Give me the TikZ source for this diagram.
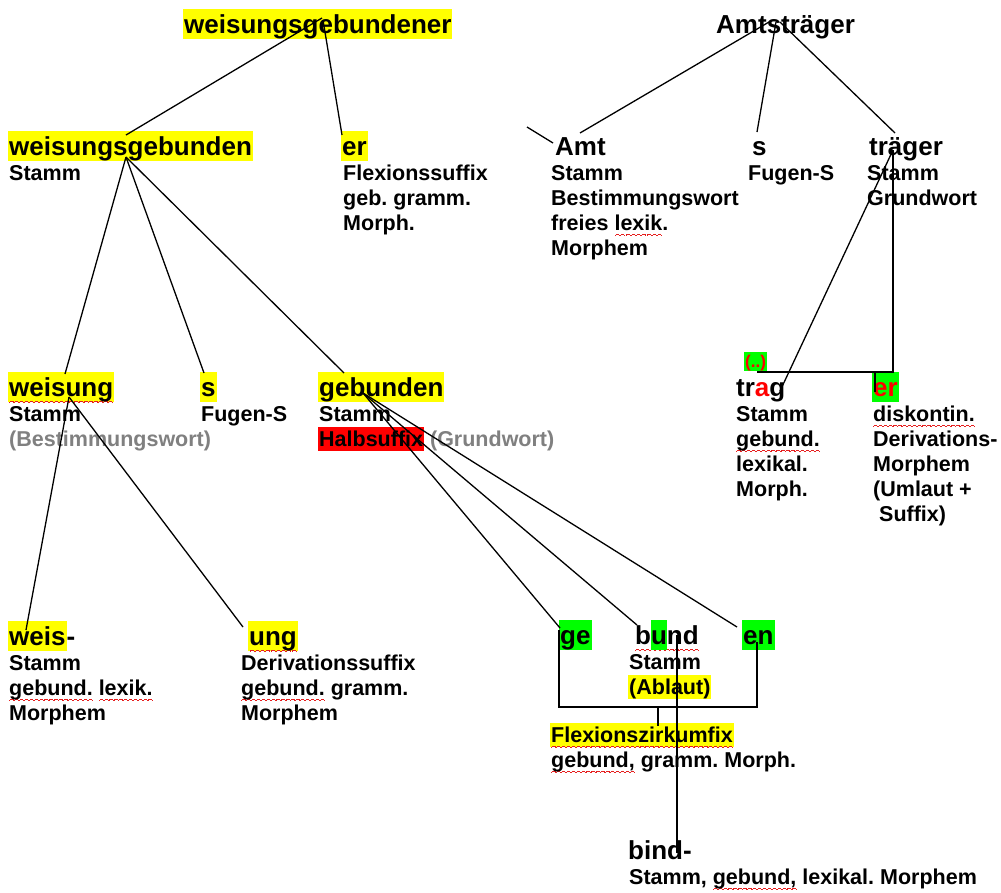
\documentclass[tikz,border=0pt]{standalone}
\usepackage{fontspec}
\setmainfont{Liberation Sans}
\frenchspacing

\definecolor{hlyellow}{RGB}{255,255,0}
\definecolor{hlgreen}{RGB}{0,255,0}
\definecolor{hlred}{RGB}{255,0,0}
\definecolor{muted}{RGB}{128,128,128}
\definecolor{spellred}{RGB}{230,30,30}

% highlighter boxes (with and without side padding)
\newcommand\hl[2]{{\setlength\fboxsep{0pt}\colorbox{#1}{\rule[-0.212em]{0pt}{1.117em}\kern1pt#2\kern1pt}}}
\newcommand\hlz[2]{{\setlength\fboxsep{0pt}\colorbox{#1}{\rule[-0.212em]{0pt}{1.117em}#2}}}
% red wavy underline, built from small stepped rules
\newcommand\wavecell{\hbox{\rule[0pt]{0.8pt}{0.9pt}\rule[0.7pt]{0.8pt}{0.9pt}\rule[1.4pt]{0.8pt}{0.9pt}\rule[1.4pt]{0.8pt}{0.9pt}\rule[0.7pt]{0.8pt}{0.9pt}\rule[0pt]{0.8pt}{0.9pt}}}
\newcommand\spell[1]{\setbox0=\hbox{#1}\rlap{\smash{\color{spellred}\lower0.27em\hbox to\wd0{\xleaders\wavecell\hfil}}}\box0\relax}
% left-aligned stack of lines, baseline = first line
\newcommand\lines[1]{\vtop{\baselineskip=25pt\lineskiplimit=-50pt\lineskip=0pt\halign{##\hfil\cr#1\crcr}}}

\tikzset{
  word/.style={anchor=base west, inner sep=0pt, font=\bfseries\fontsize{26}{30}\selectfont},
  info/.style={anchor=base west, inner sep=0pt, font=\bfseries\fontsize{21.5}{25}\selectfont},
  mini/.style={anchor=base west, inner sep=0pt, font=\bfseries\fontsize{17}{20}\selectfont},
  link/.style={line width=1.3pt, black},
}

\begin{document}
\begin{tikzpicture}[x=1pt, y=-1pt]
\path[fill=white] (0,0) rectangle (1001,892);
\useasboundingbox (0,0) rectangle (1001,892);

% ---------- weisungsgebundener ----------
\node[word] (wg) at (183,33) {\hl{hlyellow}{weisungsgebundener}};
\node[word] (wgb) at (8,155) {\hl{hlyellow}{weisungsgebunden}};
\node[info] (wgb-i) at (9,180) {\lines{Stamm}};
\node[word] (er1) at (341,155) {\hl{hlyellow}{er}};
\node[info] (er1-i) at (343,180) {\lines{Flexionssuffix\cr geb. gramm.\cr Morph.}};

\node[word] (weisung) at (8,396) {\hl{hlyellow}{\spell{weisung}}};
\node[info] (weisung-i) at (9,421) {\lines{Stamm\cr \textcolor{muted}{(Bestimmungswort)}}};
\node[word] (s1) at (200,396) {\hl{hlyellow}{s}};
\node[info] (s1-i) at (201,421) {\lines{Fugen-S}};
\node[word] (gebunden) at (318,396) {\hl{hlyellow}{gebunden}};
\node[info] (gebunden-i) at (318,421) {\lines{\kern1pt Stamm\cr \hl{hlred}{Halbsuffix} \textcolor{muted}{(Grundwort)}}};

\node[word] (weis) at (8,645) {\hl{hlyellow}{weis}-};
\node[info] (weis-i) at (9,670) {\lines{Stamm\cr \spell{gebund.} \spell{lexik.}\cr Morphem}};
\node[word] (ung) at (248,645) {\hl{hlyellow}{\spell{ung}}};
\node[info] (ung-i) at (241,670) {\lines{Derivationssuffix\cr \spell{gebund.} gramm.\cr Morphem}};

\node[word] (ge) at (559,644) {\hl{hlgreen}{ge}};
\node[word] (bund) at (635,644) {\spell{b\hlz{hlgreen}{u}nd}};
\node[word] (en) at (742,644) {\hl{hlgreen}{en}};
\node[info] (bund-i) at (628,669) {\lines{\kern1pt Stamm\cr \hl{hlyellow}{(Ablaut)}}};
\node[info] (fz) at (550,742) {\lines{\hl{hlyellow}{\spell{Flexionszirkumfix}}\cr \kern1pt\spell{gebund,} gramm. Morph.}};

\node[word] (bind) at (628,859) {bind-};
\node[info] (bind-i) at (629,884) {\lines{Stamm, \spell{gebund,} lexikal. Morphem}};

% ---------- Amtsträger ----------
\node[word] (amtstr) at (716,33) {Amtsträger};
\node[word] (amt) at (555,155) {Amt};
\node[info] (amt-i) at (551,180) {\lines{Stamm\cr Bestimmungswort\cr freies \spell{lexik}.\cr Morphem}};
\node[word] (s2) at (752,155) {s};
\node[info] (s2-i) at (748,180) {\lines{Fugen-S}};
\node[word] (traeger) at (869,155) {träger};
\node[info] (traeger-i) at (867,180) {\lines{Stamm\cr Grundwort}};

\node[mini] (dots) at (744,367) {\hl{hlgreen}{\textcolor{hlred}{(..)}}};
\node[word] (trag) at (736,396) {tr\textcolor{hlred}{a}g};
\node[info] (trag-i) at (736,421) {\lines{Stamm\cr \spell{gebund.}\cr lexikal.\cr Morph.}};
\node[word] (er2) at (872,396) {\hl{hlgreen}{\textcolor{hlred}{er}}};
\node[info] (er2-i) at (873,421) {\lines{\spell{diskontin.}\cr Derivations-\cr Morphem\cr (Umlaut +\cr \ Suffix)}};

% ---------- connector points ----------
\coordinate (wg-a) at (322,18);
\coordinate (wg-b) at (323,20);
\coordinate (wgb-top) at (126,135);
\coordinate (er1-top) at (342,135);
\coordinate (wgb-bot) at (126,157);
\coordinate (weisung-top) at (65,374);
\coordinate (s1-top) at (204,373);
\coordinate (gebunden-top) at (344,373);
\coordinate (weisung-bot) at (69,397);
\coordinate (weis-top) at (26,630);
\coordinate (ung-top) at (243,627);
\coordinate (gebunden-bot) at (363,393);
\coordinate (ge-top) at (560,628);
\coordinate (bund-top) at (637,625);
\coordinate (en-top) at (737,627);
\coordinate (ge-in) at (559,630);
\coordinate (en-in) at (757,642);
\coordinate (zk-mid) at (658,707);
\coordinate (fz-top) at (658,726);
\coordinate (bund-in) at (677,635);
\coordinate (bind-top) at (677,853);

\coordinate (at-a) at (769,22);
\coordinate (at-b) at (776,22);
\coordinate (at-c) at (780,22);
\coordinate (amt-top) at (580,133);
\coordinate (s2-top) at (757,132);
\coordinate (traeger-top) at (895,133);
\coordinate (tick-a) at (527,127);
\coordinate (tick-b) at (553,143);
\coordinate (traeger-bot) at (893,150);
\coordinate (trag-in) at (780,391);
\coordinate (dots-bot) at (757,372);
\coordinate (er2-corner) at (875,372);
\coordinate (er2-in) at (875,392);

% ---------- connectors ----------
\draw[link] (wg-a) -- (wgb-top);
\draw[link] (wg-b) -- (er1-top);
\draw[link] (wgb-bot) -- (weisung-top);
\draw[link] (wgb-bot) -- (s1-top);
\draw[link] (wgb-bot) -- (gebunden-top);
\draw[link] (weisung-bot) -- (weis-top);
\draw[link] (weisung-bot) -- (ung-top);
\draw[link] (gebunden-bot) -- (ge-top);
\draw[link] (gebunden-bot) -- (bund-top);
\draw[link] (gebunden-bot) -- (en-top);
\draw[link] (ge-in) |- (zk-mid) -| (en-in);
\draw[link] (zk-mid) -- (fz-top);
\draw[link] (bund-in) -- (bind-top);

\draw[link] (at-a) -- (amt-top);
\draw[link] (at-b) -- (s2-top);
\draw[link] (at-c) -- (traeger-top);
\draw[link] (tick-a) -- (tick-b);
\draw[link] (traeger-bot) -- (trag-in);
\draw[link] (traeger-bot) |- (dots-bot);
\draw[link] (er2-corner) -- (er2-in);
\end{tikzpicture}
\end{document}
